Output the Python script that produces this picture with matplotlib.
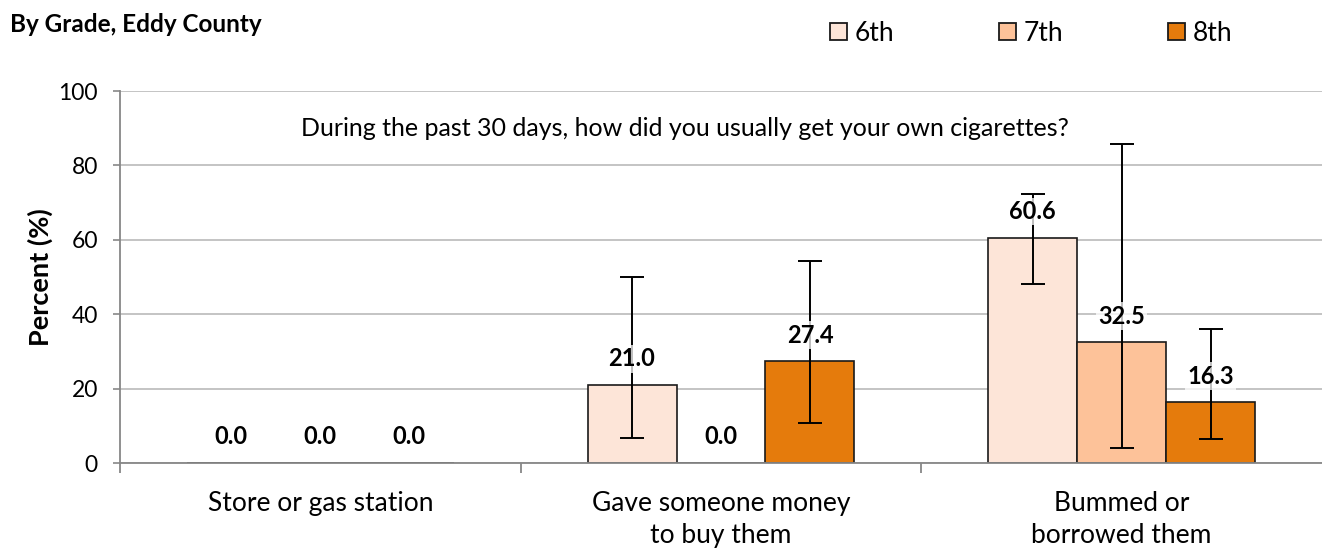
import matplotlib.pyplot as plt
import matplotlib.transforms as mtransforms
import numpy as np

plt.rcParams['font.family'] = ['Lato', 'DejaVu Sans']

categories = ['Store or gas station', 'Gave someone money\nto buy them', 'Bummed or\nborrowed them']
grades = ['6th', '7th', '8th']
colors = ['#fde5d8', '#fdc299', '#e57b0c']

values = {
    '6th': [0.0, 21.0, 60.6],
    '7th': [0.0, 0.0, 32.5],
    '8th': [0.0, 27.4, 16.3],
}
lower_ci = {
    '6th': [0.0, 6.7, 48.0],
    '7th': [0.0, 0.0, 3.9],
    '8th': [0.0, 10.8, 6.4],
}
upper_ci = {
    '6th': [0.0, 50.1, 72.3],
    '7th': [0.0, 0.0, 85.7],
    '8th': [0.0, 54.4, 36.0],
}

question = 'During the past 30 days, how did you usually get your own cigarettes?'

W, H = 1322, 550
fig = plt.figure(figsize=(W / 100, H / 100), dpi=100)
ax = fig.add_axes([120 / W, 1 - 463 / H, 1 - 120 / W, 372 / H])

x = np.arange(len(categories))
width = 0.222
grid_col = '#bfbfbf'
axis_col = '#878787'

for i, g in enumerate(grades):
    pos = x + (i - 1) * width
    vals = np.array(values[g])
    ax.bar(pos, vals, width, color=colors[i], edgecolor='#1a1a1a', linewidth=1.2, zorder=2)
    has_err = np.array(upper_ci[g]) > 0
    lo = vals - np.array(lower_ci[g])
    hi = np.array(upper_ci[g]) - vals
    ax.errorbar(pos[has_err], vals[has_err], yerr=[lo[has_err], hi[has_err]],
                fmt='none', ecolor='black', elinewidth=1.4, capsize=8.5, capthick=1.4, zorder=3)
    for p, v in zip(pos, vals):
        ax.text(p, v + 7, '%.1f' % v, ha='center', va='center', fontsize=17,
                fontweight='bold', zorder=4,
                bbox=dict(boxstyle='square,pad=0.1', fc='white', ec='none', alpha=0.75))

ax.set_ylim(0, 100)
ax.set_xlim(-0.5, 2.5)
ax.set_yticks(range(0, 101, 20))
ax.yaxis.grid(True, color=grid_col, linewidth=1.3, zorder=0)
ax.set_axisbelow(True)
ax.tick_params(axis='y', labelsize=16.5, length=5, width=1.2, color=axis_col, pad=11)
ax.set_xticks([-0.5, 0.5, 1.5])
ax.set_xticklabels([])
ax.tick_params(axis='x', length=7, color=axis_col, width=1.3)
for sp in ['top', 'right']:
    ax.spines[sp].set_visible(False)
for sp in ['left', 'bottom']:
    ax.spines[sp].set_color(axis_col)
    ax.spines[sp].set_linewidth(1.3)

for xi, c in zip(x, categories):
    ax.text(xi, -7.4, c, ha='center', va='top', fontsize=19, linespacing=1.38)

ax.set_ylabel('Percent (%)', fontsize=19.5, fontweight='bold', labelpad=4)

# question sits left of the axes centre in the original
qtrans = mtransforms.blended_transform_factory(fig.transFigure, ax.transData)
ax.text(685 / W, 90, question, transform=qtrans, fontsize=18, ha='center', va='center')

fig.text(10 / W, 1 - 32 / H, 'By Grade, Eddy County', fontsize=17.5, fontweight='bold',
         ha='left', va='baseline')

# legend drawn by hand so the spacing follows the original
for i, g in enumerate(grades):
    x0 = 830 + i * 169
    fig.patches.append(plt.Rectangle((x0 / W, 1 - 40 / H), 17 / W, 17 / H, fc=colors[i],
                                     ec='#1a1a1a', lw=1.3, transform=fig.transFigure, figure=fig))
    fig.text((x0 + 25) / W, 1 - 41 / H, g, fontsize=19, ha='left', va='baseline')

fig.savefig('out.png', dpi=100)
